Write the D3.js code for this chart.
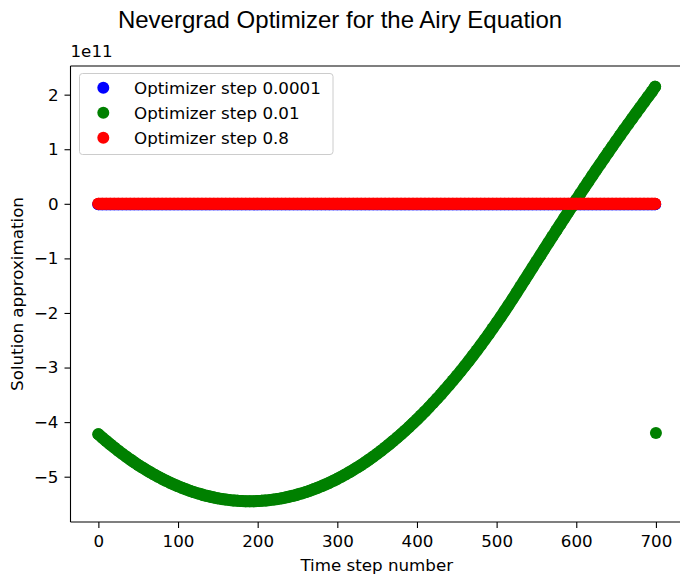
<!DOCTYPE html>
<html>
<head>
<meta charset="utf-8">
<script src="https://cdn.jsdelivr.net/npm/d3@7"></script>
<style>
  body { margin: 0; background: #fff; }
  svg { display: block; }
</style>
</head>
<body>
<svg id="chart" width="680" height="580"></svg>
<script>
// ---- data (values in units of 1e11) ----
const steps = [0,5,10,15,20,25,30,35,40,45,50,55,60,65,70,75,80,85,90,95,
  100,105,110,115,120,125,130,135,140,145,150,155,160,165,170,175,180,185,190,195,
  200,205,210,215,220,225,230,235,240,245,250,255,260,265,270,275,280,285,290,295,
  300,305,310,315,320,325,330,335,340,345,350,355,360,365,370,375,380,385,390,395,
  400,405,410,415,420,425,430,435,440,445,450,455,460,465,470,475,480,485,490,495,
  500,505,510,515,520,525,530,535,540,545,550,555,560,565,570,575,580,585,590,595,
  600,605,610,615,620,625,630,635,640,645,650,655,660,665,670,675,680,685,690,695,699];

const greenValues = [-4.223,-4.286,-4.348,-4.409,-4.467,-4.524,-4.580,-4.633,-4.685,-4.735,
  -4.784,-4.830,-4.875,-4.919,-4.960,-5.000,-5.039,-5.075,-5.110,-5.143,
  -5.175,-5.204,-5.232,-5.259,-5.283,-5.306,-5.328,-5.347,-5.365,-5.381,
  -5.396,-5.408,-5.419,-5.429,-5.436,-5.442,-5.447,-5.449,-5.450,-5.449,
  -5.447,-5.442,-5.436,-5.429,-5.419,-5.408,-5.396,-5.381,-5.365,-5.347,
  -5.328,-5.306,-5.283,-5.259,-5.232,-5.204,-5.175,-5.143,-5.110,-5.075,
  -5.039,-5.000,-4.960,-4.919,-4.875,-4.830,-4.784,-4.735,-4.685,-4.633,
  -4.580,-4.524,-4.467,-4.409,-4.348,-4.286,-4.223,-4.157,-4.090,-4.021,
  -3.951,-3.878,-3.804,-3.729,-3.651,-3.572,-3.492,-3.409,-3.325,-3.239,
  -3.152,-3.063,-2.972,-2.879,-2.784,-2.688,-2.590,-2.490,-2.389,-2.286,
  -2.181,-2.075,-1.966,-1.856,-1.745,-1.631,-1.516,-1.400,-1.285,-1.170,
  -1.055,-0.941,-0.826,-0.713,-0.599,-0.487,-0.374,-0.262,-0.150,-0.038,
  0.073,0.184,0.294,0.403,0.512,0.620,0.727,0.833,0.939,1.044,
  1.149,1.253,1.356,1.458,1.560,1.661,1.762,1.862,1.961,2.059,2.145];
const greenExtraStep = [700];
const greenExtraValue = [-4.20];

const blueValue = -0.01;   // step 0.0001 series: ~0 for every step
const redValue = 0.0;      // step 0.8 series: 0 for every step

const xTicks = [0,100,200,300,400,500,600,700];
const yTicks = [-5,-4,-3,-2,-1,0,1,2];

const seriesNames = ["Optimizer step 0.0001","Optimizer step 0.01","Optimizer step 0.8"];
const seriesColors = ["#0000ff","#008000","#ff0000"];

// ---- layout ----
const svg = d3.select("#chart");
const L = 70.5, R = 683, T = 66, B = 522;
const x = d3.scaleLinear().domain([-35, 734]).range([L, R]);
const y = d3.scaleLinear().domain([-5.83, 2.525]).range([B, T]);
const font = "'DejaVu Sans', sans-serif";
const fs = 16.7;
const r = 6;

const blueData = steps.map(s => ({s, v: blueValue}));
const greenData = steps.map((s, i) => ({s, v: greenValues[i]}));
const greenExtra = greenExtraStep.map((s, i) => ({s, v: greenExtraValue[i]}));
const redData = steps.map(s => ({s, v: redValue}));

svg.append("defs").append("clipPath").attr("id", "clip")
  .append("rect").attr("x", L).attr("y", T).attr("width", R - L).attr("height", B - T);

const plot = svg.append("g").attr("clip-path", "url(#clip)");
const band = d3.line().x(d => x(d.s)).y(d => y(d.v)).curve(d3.curveCatmullRom);
// dense markers merge into a thick band: draw band + markers
[[blueData, [], seriesColors[0]], [greenData, greenExtra, seriesColors[1]], [redData, [], seriesColors[2]]]
  .forEach(([data, extra, col]) => {
    const g = plot.append("g");
    g.append("path").datum(data).attr("d", band).attr("fill", "none").attr("stroke", col)
      .attr("stroke-width", 2 * r).attr("stroke-linecap", "round").attr("stroke-linejoin", "round");
    g.selectAll("circle").data(data.concat(extra)).join("circle")
      .attr("cx", d => x(d.s)).attr("cy", d => y(d.v)).attr("r", r).attr("fill", col);
  });

// axes
const xAxis = svg.append("g").attr("transform", `translate(0,${B})`)
  .call(d3.axisBottom(x).tickValues(xTicks).tickSize(6).tickPadding(6).tickFormat(d3.format("d")));
const yAxis = svg.append("g").attr("transform", `translate(${L},0)`)
  .call(d3.axisLeft(y).tickValues(yTicks).tickSize(6).tickPadding(6)
    .tickFormat(d => d < 0 ? "\u2212" + Math.abs(d) : String(d)));
[xAxis, yAxis].forEach(a => {
  a.select(".domain").remove();
  a.selectAll("line").attr("stroke", "#000").attr("stroke-width", 1.1);
  a.selectAll("text").attr("font-family", font).attr("font-size", fs).attr("fill", "#000");
});
xAxis.selectAll("text").attr("dy", "0.78em");

// spines (left, bottom, top; right lies outside the picture)
svg.append("line").attr("x1", L).attr("x2", L).attr("y1", T).attr("y2", B).attr("stroke", "#000").attr("stroke-width", 1.1);
svg.append("line").attr("x1", L).attr("x2", R).attr("y1", B).attr("y2", B).attr("stroke", "#000").attr("stroke-width", 1.1);
svg.append("line").attr("x1", L).attr("x2", R).attr("y1", T).attr("y2", T).attr("stroke", "#000").attr("stroke-width", 1.1);

// offset text
svg.append("text").attr("x", L).attr("y", 57).attr("font-family", font).attr("font-size", fs).text("1e11");

// title
svg.append("text").attr("x", 340).attr("y", 28).attr("text-anchor", "middle")
  .attr("font-family", "'Liberation Sans', Arial, sans-serif").attr("font-size", 24)
  .text("Nevergrad Optimizer for the Airy Equation");

// axis labels
svg.append("text").attr("x", (L + R) / 2).attr("y", 571).attr("text-anchor", "middle")
  .attr("font-family", font).attr("font-size", fs).text("Time step number");
svg.append("text").attr("transform", `translate(23,${(T + B) / 2}) rotate(-90)`)
  .attr("text-anchor", "middle").attr("font-family", font).attr("font-size", fs)
  .text("Solution approximation");

// legend
const lg = svg.append("g");
lg.append("rect").attr("x", 79.5).attr("y", 73.5).attr("width", 253.5).attr("height", 81)
  .attr("rx", 3).attr("fill", "#fff").attr("fill-opacity", 0.8).attr("stroke", "#cccccc");
seriesNames.forEach((name, i) => {
  const cy = 87.7 + i * 25;
  lg.append("circle").attr("cx", 103.3).attr("cy", cy).attr("r", r).attr("fill", seriesColors[i]);
  lg.append("text").attr("x", 134).attr("y", cy + 6).attr("font-family", font).attr("font-size", fs)
    .text(name);
});
</script>
</body>
</html>
